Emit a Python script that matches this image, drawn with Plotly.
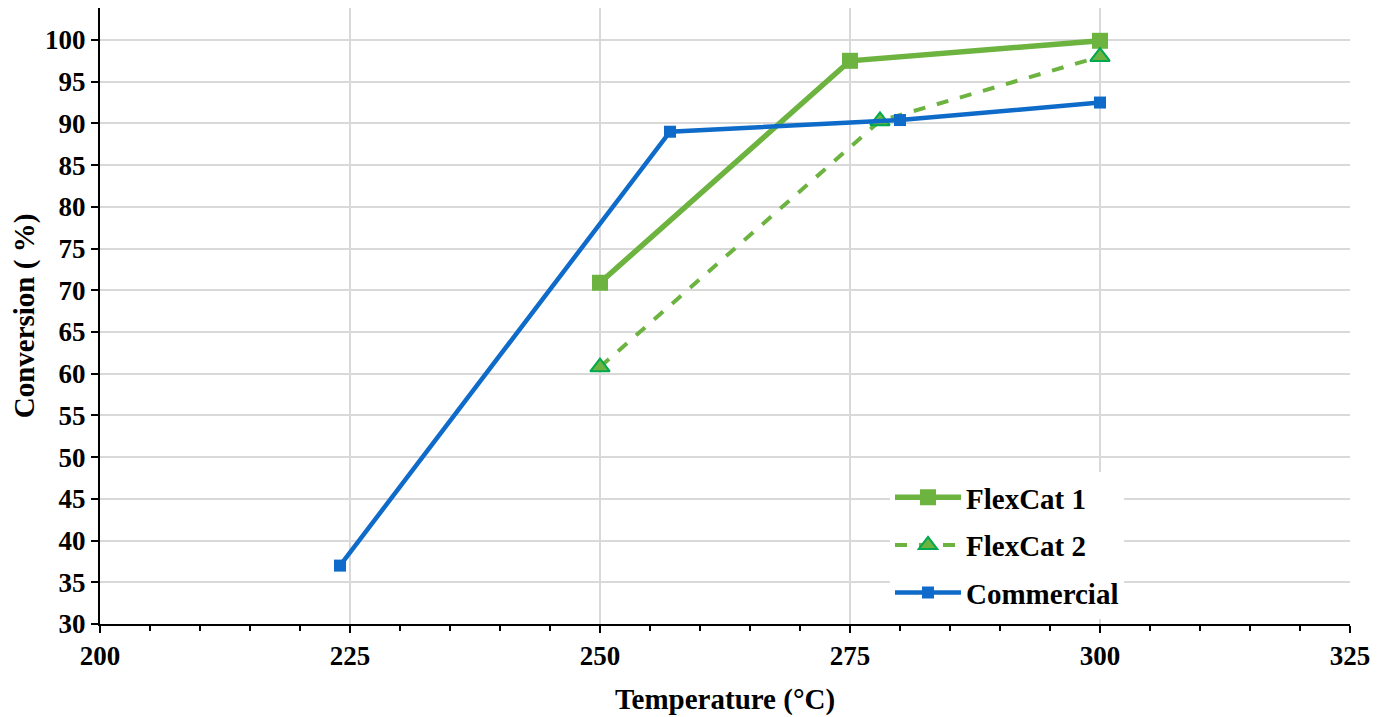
import plotly.graph_objects as go

# Data
flex1_x = [250, 275, 300]
flex1_y = [70.9, 97.5, 99.9]
flex2_x = [250, 278, 300]
flex2_y = [60.8, 90.3, 98.0]
comm_x = [224, 257, 280, 300]
comm_y = [37.0, 89.0, 90.4, 92.5]

x_ticks = [200, 225, 250, 275, 300, 325]
y_ticks = list(range(30, 101, 5))

GREEN = "#6DB33F"
GREEN_EDGE = "#00A84F"
BLUE = "#0F6BC9"
FONT = "Liberation Serif"

fig = go.Figure()
fig.add_trace(go.Scatter(
    x=flex1_x, y=flex1_y, name="FlexCat 1", mode="lines+markers",
    legendgroup="a",
    line=dict(color=GREEN, width=5.5),
    marker=dict(symbol="square", size=16, color=GREEN),
))
fig.add_trace(go.Scatter(
    x=flex2_x, y=flex2_y, name="FlexCat 2", mode="lines+markers",
    legendgroup="b",
    line=dict(color=GREEN, width=4, dash="dash"),
    marker=dict(symbol="triangle-up", size=17, color=GREEN,
                line=dict(color=GREEN_EDGE, width=2)),
))
fig.add_trace(go.Scatter(
    x=comm_x, y=comm_y, name="Commercial", mode="lines+markers",
    legendgroup="c",
    line=dict(color=BLUE, width=4.5),
    marker=dict(symbol="square", size=12, color=BLUE),
))

fig.update_layout(
    width=1388, height=717,
    margin=dict(l=92, r=46, t=0, b=101, autoexpand=False),
    paper_bgcolor="white", plot_bgcolor="white",
    font=dict(family=FONT, size=20, color="black"),
    showlegend=True,
    legend=dict(
        x=0.632, y=0.247, xanchor="left", yanchor="top",
        bgcolor="white", borderwidth=0,
        font=dict(family=FONT, size=29, color="black", weight="bold"),
        itemwidth=66, traceorder="grouped", tracegroupgap=7,
    ),
    xaxis=dict(
        range=[200, 325], tickvals=x_ticks,
        showline=True, linecolor="black", linewidth=2,
        ticks="outside", ticklen=7, tickwidth=2, tickcolor="black",
        showgrid=True, gridcolor="#D9D9D9", gridwidth=2,
        zeroline=False,
        tickfont=dict(family=FONT, size=27, weight="bold"),
        minor=dict(dtick=5, tick0=200, ticks="outside", ticklen=5, tickwidth=2,
                   tickcolor="black", showgrid=False),
        title=dict(text="Temperature (°C)", standoff=18,
                   font=dict(family=FONT, size=29, weight="bold")),
    ),
    yaxis=dict(
        range=[30, 103.83], tickvals=y_ticks,
        showline=True, linecolor="black", linewidth=2,
        ticks="outside", ticklen=7, tickwidth=2, tickcolor="black",
        showgrid=True, gridcolor="#D9D9D9", gridwidth=2,
        zeroline=False,
        tickfont=dict(family=FONT, size=27, weight="bold"),
        title=dict(text="Conversion ( %)", standoff=4,
                   font=dict(family=FONT, size=29, weight="bold")),
    ),
)

fig.write_html("out.html")
